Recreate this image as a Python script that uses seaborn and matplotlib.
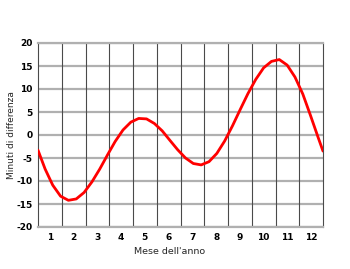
import matplotlib
matplotlib.use("Agg")
import matplotlib.pyplot as plt
import seaborn as sns
import pandas as pd

# month position (0 = Jan 1, 12 = Dec 31) and equation of time (minutes)
month_pos = [0.00, 0.30, 0.62, 0.95, 1.28, 1.61, 1.94, 2.27, 2.60, 2.93,
             3.25, 3.58, 3.91, 4.24, 4.57, 4.90, 5.23, 5.56, 5.88, 6.21,
             6.54, 6.87, 7.20, 7.53, 7.86, 8.19, 8.52, 8.84, 9.17, 9.50,
             9.83, 10.16, 10.49, 10.82, 11.15, 11.47, 11.80, 12.00]
minutes = [-3.3, -7.4, -10.9, -13.3, -14.2, -13.9, -12.5, -10.2, -7.4, -4.3,
           -1.4, 1.1, 2.8, 3.6, 3.5, 2.5, 0.9, -1.2, -3.2, -5.0,
           -6.2, -6.5, -5.8, -4.0, -1.3, 2.0, 5.6, 9.0, 12.1, 14.6,
           16.0, 16.4, 15.2, 12.6, 8.9, 4.3, -0.6, -3.5]
month_labels = ["1", "2", "3", "4", "5", "6", "7", "8", "9", "10", "11", "12"]
y_ticks = [-20, -15, -10, -5, 0, 5, 10, 15, 20]

sns.set_style("white")
plt.rcParams['font.family'] = ['DejaVu Sans']

df = pd.DataFrame({"mese": month_pos, "minuti": minutes})

fig = plt.figure(figsize=(3.5, 2.69), dpi=100)
ax = fig.add_axes([38/350, 1 - 227/269, (323 - 38)/350, (227 - 43)/269])

# grid
for y in y_ticks:
    ax.axhline(y, color="#b0b0b0", lw=1.6, zorder=1)
for x in range(1, 12):
    ax.axvline(x, color="#4a4a4a", lw=0.8, zorder=1)

sns.lineplot(data=df, x="mese", y="minuti", color="#ff0000", lw=2.0, ax=ax, zorder=3)

ax.set_xlim(0, 12)
ax.set_ylim(-20, 20)
ax.set_xticks([i + 0.5 for i in range(12)])
ax.set_xticklabels(month_labels)
ax.set_yticks(y_ticks)
ax.set_yticklabels([str(v) for v in y_ticks])
ax.tick_params(axis="both", length=0, labelsize=6.5, colors="black", pad=4)
for lab in ax.get_xticklabels() + ax.get_yticklabels():
    lab.set_fontweight("bold")

for s in ["left", "right"]:
    ax.spines[s].set_color("#4a4a4a")
    ax.spines[s].set_linewidth(0.8)
for s in ["top", "bottom"]:
    ax.spines[s].set_color("#b0b0b0")
    ax.spines[s].set_linewidth(1.6)

ax.set_xlabel("Mese dell'anno", fontsize=6.8)
ax.set_ylabel("Minuti di differenza", fontsize=6.5)
ax.xaxis.set_label_coords((170 - 38) / 285, -(252 - 227) / 184, transform=ax.transAxes)
ax.yaxis.set_label_coords(-(38 - 11.5) / 285, 0.5, transform=ax.transAxes)
ax.xaxis.label.set_va("center")
ax.yaxis.label.set_va("center")

fig.savefig("out.png", dpi=100)
